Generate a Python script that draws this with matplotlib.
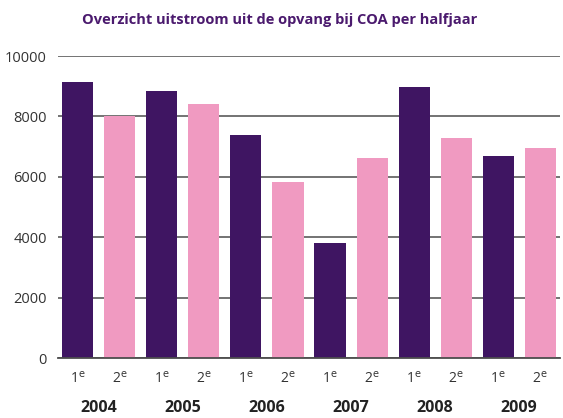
import matplotlib.pyplot as plt

plt.rcParams['font.family'] = ['Open Sans', 'DejaVu Sans']

years = ["2004", "2005", "2006", "2007", "2008", "2009"]
halves = ["1$^{\\mathrm{e}}$", "2$^{\\mathrm{e}}$"]
first_half = [9130, 8830, 7400, 3800, 8970, 6680]
second_half = [8000, 8410, 5830, 6620, 7280, 6950]

dark = "#3f1562"
pink = "#f09ac1"

fig = plt.figure(figsize=(5.63, 4.18), dpi=100)
ax = fig.add_axes([58 / 563, 60 / 418, 502 / 563, 302 / 418])

for i in range(len(years)):
    ax.bar(2 * i, first_half[i], width=0.74, color=dark, zorder=3)
    ax.bar(2 * i + 1, second_half[i], width=0.74, color=pink, zorder=3)

ax.set_xlim(-0.47, 11.47)
ax.set_ylim(0, 10000)
ax.set_yticks(range(0, 10001, 2000))
ax.set_yticklabels([str(v) for v in range(0, 10001, 2000)], fontsize=10.5, color="#333333")
ax.yaxis.grid(True, color="#4d4d4d", linewidth=1.1, zorder=0)
ax.tick_params(axis="y", length=0, pad=8)

ax.set_xticks(range(12))
ax.set_xticklabels(halves * len(years), fontsize=10, color="#333333")
ax.tick_params(axis="x", length=0, pad=9)

for i, y in enumerate(years):
    ax.text(2 * i + 0.5, -0.165, y, transform=ax.get_xaxis_transform(),
            ha="center", va="center", fontsize=11.5, fontweight="bold", color="#222222")

for s in ["top", "right", "left"]:
    ax.spines[s].set_visible(False)
ax.spines["bottom"].set_color("#4d4d4d")
ax.spines["bottom"].set_linewidth(1.3)
ax.spines["bottom"].set_zorder(4)

fig.text(0.496, 1 - 20 / 418, "Overzicht uitstroom uit de opvang bij COA per halfjaar",
         ha="center", va="center", fontsize=10.5, fontweight="bold", color="#4b1a6e")

fig.savefig("out.png", dpi=100)
